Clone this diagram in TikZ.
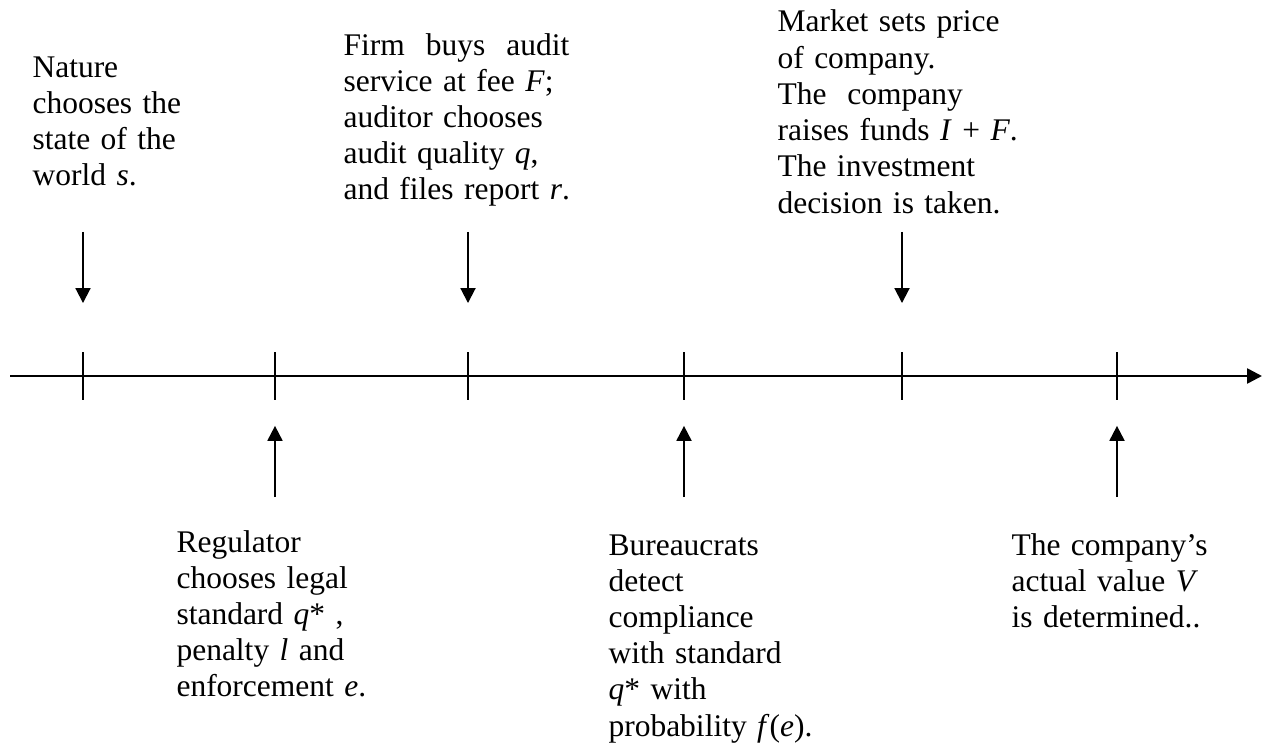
\documentclass[tikz,border=0pt]{standalone}
\usepackage{fontspec}
\setmainfont{Liberation Serif}
\usetikzlibrary{arrows.meta}

\begin{document}
\begin{tikzpicture}[x=0.381pt, y=-0.381pt, font=\fontsize{12}{13.8}\selectfont]
    \tikzstyle{axis_style} = [-{Triangle[length=5.7pt, width=5.7pt]}, black, line width=1pt]
    \tikzstyle{tick_style} = [black, line width=0.6pt]
    \tikzstyle{arrow_style} = [-{Triangle[length=5.7pt, width=5.7pt]}, black, line width=0.75pt]
    \tikzstyle{event_style} = [anchor=base west, inner sep=0pt, text width=130pt, align=left]

    \useasboundingbox (0,0) rectangle (1272,751);

    % time line
    \coordinate (start) at (10,376);
    \coordinate (end) at (1262,376);
    \draw[axis_style] (start) -- (end);
    \foreach \n/\x in {1/83, 2/275, 3/468, 4/684, 5/902, 6/1117} {
        \coordinate (t\n) at (\x,376);
        \draw[tick_style] ([yshift=9.1pt]t\n) -- ([yshift=-9.1pt]t\n);
    }

    % events above the line
    \node[event_style] (nature) at (32,77) {Nature\\ chooses the\\ state of the\\ world \textit{s}.};
    \node[event_style] (firm) at (343,55) {\hbox to 86pt{Firm\hfill buys\hfill audit}\\ service at fee \textit{F};\\ auditor chooses\\ audit quality \textit{q},\\ and files report \textit{r}.};
    \node[event_style] (market) at (777,32) {Market sets price\\ of company.\\ The~~company\\ raises funds \textit{I} + \textit{F}.\\ The investment\\ decision is taken.};

    % events below the line
    \node[event_style] (regulator) at (176,552) {Regulator\\ chooses legal\\ standard \textit{q}* ,\\ penalty \textit{l} and\\ enforcement \textit{e}.};
    \node[event_style] (bureau) at (608,555) {Bureaucrats\\ detect\\ compliance\\ with standard\\ \textit{q}* with\\ probability \textit{f}(\textit{e}).};
    \node[event_style] (value) at (1011,555) {The company’s\\ actual value \textit{V}\\ is determined..};

    \foreach \n in {1,3,5}
        \draw[arrow_style] ([yshift=54.9pt]t\n) -- ([yshift=27.8pt]t\n);
    \foreach \n in {2,4,6}
        \draw[arrow_style] ([yshift=-46.1pt]t\n) -- ([yshift=-19pt]t\n);
\end{tikzpicture}
\end{document}
